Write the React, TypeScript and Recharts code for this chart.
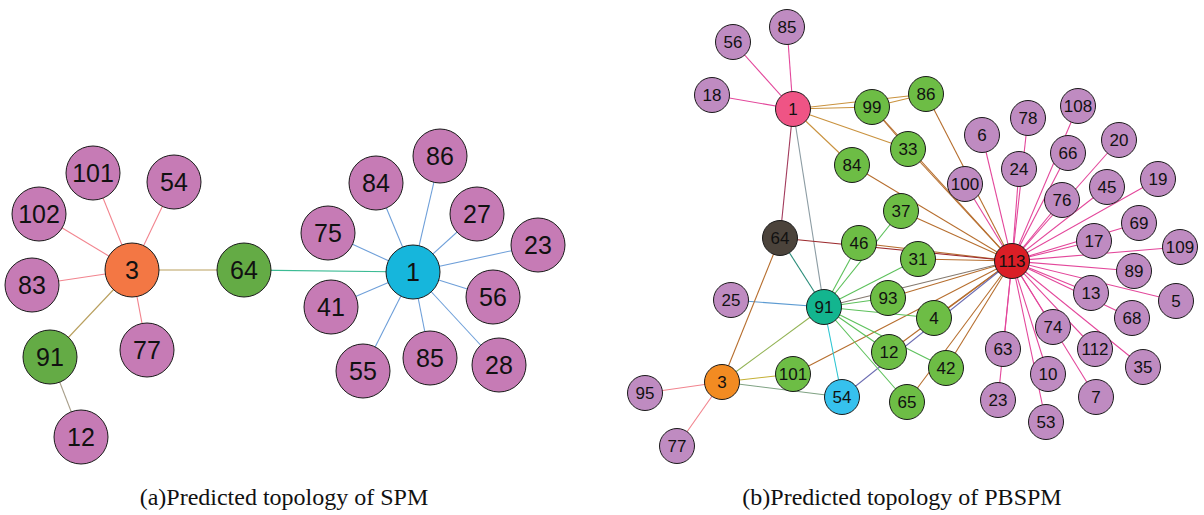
import React from 'react';
import { ScatterChart, Scatter, XAxis, YAxis } from 'recharts';

const W = 1204;
const H = 515;

// ---------- (a) SPM graph ----------
const spmLabels = ['3', '64', '101', '54', '102', '83', '91', '77', '12', '1', '86', '84', '27', '75', '23', '56', '41', '55', '85', '28'];
const spmX = [132, 244, 93, 174, 39, 32, 50, 147, 81, 413, 440, 376, 477, 328, 538, 493, 331, 363, 430, 499];
const spmY = [270, 270, 173, 182, 214, 285, 357, 350, 437, 272, 156, 183, 214, 233, 245, 297, 307, 371, 358, 365];
const spmGroup = ['orange', 'green', 'pink', 'pink', 'pink', 'pink', 'green', 'pink', 'pink', 'blue', 'pink', 'pink', 'pink', 'pink', 'pink', 'pink', 'pink', 'pink', 'pink', 'pink'];
const spmEdges: [string, string, string][] = [
  ['3', '101', 'salmon'], ['3', '54', 'salmon'], ['3', '102', 'salmon'], ['3', '83', 'salmon'], ['3', '77', 'salmon'],
  ['3', '64', 'tan'], ['3', '91', 'tan'], ['91', '12', 'grayTan'], ['64', '1', 'teal'],
  ['1', '86', 'sky'], ['1', '84', 'sky'], ['1', '27', 'sky'], ['1', '75', 'sky'], ['1', '23', 'sky'],
  ['1', '56', 'sky'], ['1', '41', 'sky'], ['1', '55', 'sky'], ['1', '85', 'sky'], ['1', '28', 'sky'],
];

// ---------- (b) PBSPM graph ----------
const pbLabels = ['1', '85', '56', '18', '99', '86', '33', '84', '37', '64', '46', '31', '113', '25', '91', '93', '4', '12', '101', '3', '54', '65', '42', '95', '77',
  '100', '6', '78', '108', '24', '66', '20', '76', '45', '19', '69', '17', '109', '89', '13', '5', '68', '74', '63', '112', '35', '10', '23', '7', '53'];
const pbX = [793, 787, 733, 712, 872, 926, 908, 852, 901, 780, 859, 918, 1012, 731, 824, 888, 934, 889, 793, 722, 842, 907, 946, 645, 677,
  965, 982, 1028, 1078, 1019, 1068, 1119, 1062, 1107, 1158, 1139, 1094, 1180, 1134, 1091, 1176, 1132, 1053, 1003, 1095, 1143, 1048, 998, 1096, 1046];
const pbY = [109, 27, 42, 95, 107, 94, 149, 165, 211, 238, 243, 259, 261, 300, 307, 298, 318, 352, 374, 382, 397, 402, 368, 393, 446,
  184, 135, 118, 106, 169, 153, 140, 200, 187, 179, 223, 241, 247, 271, 293, 301, 318, 327, 349, 349, 367, 374, 400, 397, 422];
const pbGroup = ['rose', 'lilac', 'lilac', 'lilac', 'lime', 'lime', 'lime', 'lime', 'lime', 'dark', 'lime', 'lime', 'red', 'lilac', 'teal', 'lime', 'lime', 'lime', 'lime', 'amber', 'cyan', 'lime', 'lime', 'lilac', 'lilac',
  'lilac', 'lilac', 'lilac', 'lilac', 'lilac', 'lilac', 'lilac', 'lilac', 'lilac', 'lilac', 'lilac', 'lilac', 'lilac', 'lilac', 'lilac', 'lilac', 'lilac', 'lilac', 'lilac', 'lilac', 'lilac', 'lilac', 'lilac', 'lilac', 'lilac'];
const hubPinkLeaves = ['100', '6', '78', '24', '108', '66', '20', '76', '45', '19', '69', '17', '109', '89', '13', '5', '68', '74', '112', '35', '7', '10', '53', '63', '23'];
const hubGreenLeaves = ['86', '99', '33', '84', '37', '46', '31', '93', '4', '12', '101', '42', '65'];
const tealGreenLeaves = ['46', '37', '31', '93', '4', '12', '42', '65'];
const pbEdges: [string, string, string][] = [
  ['1', '85', 'magenta'], ['1', '56', 'magenta'], ['1', '18', 'magenta'],
  ['1', '99', 'gold'], ['1', '86', 'gold'], ['1', '33', 'gold'], ['1', '84', 'gold'], ['99', '86', 'gold'], ['99', '33', 'brown'],
  ['1', '64', 'wine'], ['1', '91', 'slate'],
  ...hubPinkLeaves.map((l) => ['113', l, 'magenta'] as [string, string, string]),
  ...hubGreenLeaves.map((l) => ['113', l, 'brown'] as [string, string, string]),
  ['64', '113', 'darkRed'], ['91', '113', 'grayBrown'], ['54', '113', 'purple'],
  ...tealGreenLeaves.map((l) => ['91', l, 'grass'] as [string, string, string]),
  ['64', '91', 'deepTeal'], ['25', '91', 'steel'], ['91', '54', 'aqua'],
  ['3', '64', 'brown'], ['3', '91', 'olive'], ['3', '101', 'mustard'], ['3', '54', 'sage'], ['3', '95', 'salmon'], ['3', '77', 'salmon'],
];

const captionA = '(a)Predicted topology of SPM';
const captionB = '(b)Predicted topology of PBSPM';

// ---------- styles ----------
const nodeFill: Record<string, string> = {
  orange: '#F37744', green: '#64AB45', pink: '#C67BB5', blue: '#16B6DC',
  rose: '#EF5485', lilac: '#BF8BC1', lime: '#6DBD45', dark: '#4B433B', red: '#DA1E26', teal: '#13B58F', amber: '#F28B22', cyan: '#36C1EE',
};
const edgeColor: Record<string, string> = {
  salmon: '#F2848E', tan: '#B9A05F', grayTan: '#A9A08C', teal: '#3CBB94', sky: '#6E9FD9',
  magenta: '#E3479B', gold: '#C9923E', brown: '#B66E2E', wine: '#A23A5C', slate: '#8C9CA3',
  darkRed: '#9C2B2E', grayBrown: '#857A70', purple: '#6C6CB2', grass: '#5DC15B', deepTeal: '#2A8C79',
  steel: '#5C9BD2', aqua: '#2EC6D2', olive: '#92B354', mustard: '#C4B035', sage: '#7FA283',
};

type Node = { x: number; y: number; label: string; fill: string; r: number; fs: number };

function buildNodes(labels: string[], xs: number[], ys: number[], groups: string[], r: number, fs: number): Node[] {
  return labels.map((label, i) => ({ x: xs[i], y: ys[i], label, fill: nodeFill[groups[i]], r, fs }));
}

function buildEdges(labels: string[], xs: number[], ys: number[], edges: [string, string, string][]) {
  const idx = (l: string) => labels.indexOf(l);
  return edges.map(([a, b, c]) => ({
    pts: [{ x: xs[idx(a)], y: ys[idx(a)] }, { x: xs[idx(b)], y: ys[idx(b)] }],
    color: edgeColor[c],
  }));
}

const spmNodes = buildNodes(spmLabels, spmX, spmY, spmGroup, 27, 25);
const pbNodes = buildNodes(pbLabels, pbX, pbY, pbGroup, 17.5, 17);
const allEdges = [...buildEdges(spmLabels, spmX, spmY, spmEdges), ...buildEdges(pbLabels, pbX, pbY, pbEdges)];

const EmptyShape = () => <g />;

const NodeShape = (props: any) => {
  const { cx, cy, payload } = props;
  return (
    <g>
      <circle cx={cx} cy={cy} r={payload.r} fill={payload.fill} stroke="#1a1a1a" strokeWidth={1} />
      <text
        x={cx}
        y={cy + payload.fs * 0.36}
        textAnchor="middle"
        fontSize={payload.fs}
        fontFamily="'Liberation Sans', Arial, sans-serif"
        fill="#111"
      >
        {payload.label}
      </text>
    </g>
  );
};

const captionStyle: React.CSSProperties = {
  position: 'absolute',
  top: 485,
  width: 500,
  textAlign: 'center',
  fontFamily: 'Liberation Serif',
  fontSize: 24,
  lineHeight: '24px',
  color: '#111',
  whiteSpace: 'nowrap',
};

export default function App() {
  return (
    <div style={{ position: 'absolute', left: 0, top: 0, width: W, height: H, background: '#fff', overflow: 'hidden' }}>
      <ScatterChart width={W} height={H} margin={{ top: 0, right: 0, bottom: 0, left: 0 }}>
        <XAxis type="number" dataKey="x" domain={[0, W]} allowDataOverflow hide />
        <YAxis type="number" dataKey="y" domain={[0, H]} allowDataOverflow reversed hide />
        {allEdges.map((e, i) => (
          <Scatter
            key={'e' + i}
            data={e.pts}
            line={{ stroke: e.color, strokeWidth: 1.1 }}
            shape={EmptyShape}
            isAnimationActive={false}
          />
        ))}
        <Scatter data={spmNodes} shape={NodeShape} isAnimationActive={false} />
        <Scatter data={pbNodes} shape={NodeShape} isAnimationActive={false} />
      </ScatterChart>
      <div style={{ ...captionStyle, left: 284 - 250 }}>{captionA}</div>
      <div style={{ ...captionStyle, left: 902 - 250 }}>{captionB}</div>
    </div>
  );
}
